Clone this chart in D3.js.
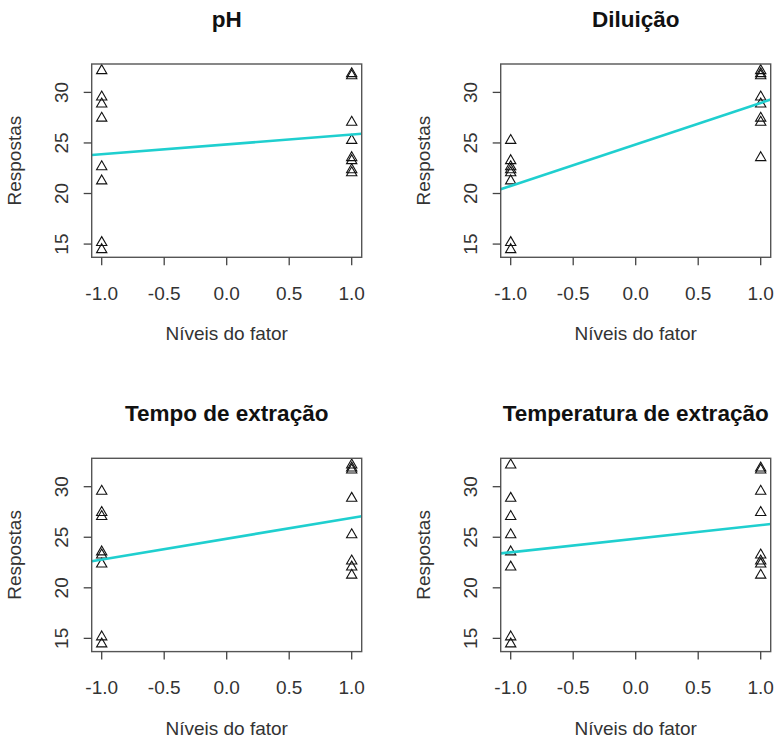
<!DOCTYPE html>
<html>
<head>
<meta charset="utf-8">
<script src="https://cdn.jsdelivr.net/npm/d3@7"></script>
<style>
  body { margin: 0; background: #fff; }
  text { font-family: "Liberation Sans", Arial, sans-serif; }
</style>
</head>
<body>
<div id="main"><svg width="774" height="739"></svg></div>
<script>
// respostas do planejamento 2^(4-1) em duplicata
var respostas   = [15.1, 14.4, 23.2, 22.3, 29.5, 27.4, 27.0, 23.5, 22.6, 21.2, 25.2, 22.0, 32.1, 28.8, 31.8, 31.6];
var ph          = [-1, -1,  1,  1, -1, -1,  1,  1, -1, -1,  1,  1, -1, -1,  1,  1];
var diluicao    = [-1, -1, -1, -1,  1,  1,  1,  1, -1, -1, -1, -1,  1,  1,  1,  1];
var tempo       = [-1, -1, -1, -1, -1, -1, -1, -1,  1,  1,  1,  1,  1,  1,  1,  1];
var temperatura = [-1, -1,  1,  1,  1,  1, -1, -1,  1,  1, -1, -1, -1, -1,  1,  1];

var titulos = ["pH", "Diluição", "Tempo de extração", "Temperatura de extração"];
var fatores = [ph, diluicao, tempo, temperatura];
var xTicks = [-1.0, -0.5, 0.0, 0.5, 1.0];
var yTicks = [15, 20, 25, 30];

var svg = d3.select("#main svg");
svg.append("rect").attr("width", 774).attr("height", 739).attr("fill", "#fff");

var COL_X = [91.7, 500.7];
var ROW_Y = [64, 458.3];
var boxW = 270, boxH = 193.3;

// R style 4% padding on each side
var ext = d3.extent(respostas);
var pad = (ext[1] - ext[0]) * 0.04;

var tri = d3.symbol().type(d3.symbolTriangle).size(46);

titulos.forEach(function(titulo, k) {
  var fator = fatores[k];
  var g = svg.append("g")
    .attr("transform", "translate(" + [COL_X[k % 2], ROW_Y[Math.floor(k / 2)]] + ")");

  var x = d3.scaleLinear().domain([-1.08, 1.08]).range([0, boxW]);
  var y = d3.scaleLinear().domain([ext[0] - pad, ext[1] + pad]).range([boxH, 0]);

  // regressao simples resposta ~ fator
  var mx = d3.mean(fator), my = d3.mean(respostas);
  var sxy = d3.sum(fator, function(f, i) { return (f - mx) * (respostas[i] - my); });
  var sxx = d3.sum(fator, function(f) { return (f - mx) * (f - mx); });
  var b = sxy / sxx, a = my - b * mx;

  var clipId = "clip" + k;
  g.append("clipPath").attr("id", clipId)
    .append("rect").attr("width", boxW).attr("height", boxH);

  g.selectAll(".pt").data(respostas)
    .enter().append("path")
    .attr("class", "pt")
    .attr("d", tri)
    .attr("transform", function(d, i) { return "translate(" + [x(fator[i]), y(d) - 0.5] + ")"; })
    .attr("fill", "none")
    .attr("stroke", "#111")
    .attr("stroke-width", 1.1);

  g.append("line")
    .attr("clip-path", "url(#" + clipId + ")")
    .attr("x1", x(-1.08)).attr("y1", y(a + b * -1.08))
    .attr("x2", x(1.08)).attr("y2", y(a + b * 1.08))
    .attr("stroke", "#1fcfcf")
    .attr("stroke-width", 2.6);

  g.append("rect")
    .attr("width", boxW).attr("height", boxH)
    .attr("fill", "none").attr("stroke", "#555").attr("stroke-width", 1.4);

  // eixo x
  var xAxis = g.append("g");
  xAxis.selectAll("line").data(xTicks).enter().append("line")
    .attr("x1", function(d) { return x(d); }).attr("x2", function(d) { return x(d); })
    .attr("y1", boxH).attr("y2", boxH + 8)
    .attr("stroke", "#444").attr("stroke-width", 1.3);
  xAxis.selectAll("text").data(xTicks).enter().append("text")
    .attr("x", function(d) { return x(d); })
    .attr("y", boxH + 42.5)
    .attr("text-anchor", "middle")
    .attr("font-size", 19).attr("fill", "#333")
    .text(function(d) { return d3.format(".1f")(d).replace("−", "-"); });

  // eixo y
  var yAxis = g.append("g");
  yAxis.selectAll("line").data(yTicks).enter().append("line")
    .attr("x1", -8).attr("x2", 0)
    .attr("y1", function(d) { return y(d); }).attr("y2", function(d) { return y(d); })
    .attr("stroke", "#444").attr("stroke-width", 1.3);
  yAxis.selectAll("text").data(yTicks).enter().append("text")
    .attr("transform", function(d) { return "translate(" + [-24, y(d)] + ") rotate(-90)"; })
    .attr("text-anchor", "middle")
    .attr("font-size", 19).attr("fill", "#333")
    .text(function(d) { return d; });

  g.append("text")
    .attr("x", boxW / 2).attr("y", boxH + 83)
    .attr("text-anchor", "middle")
    .attr("font-size", 19).attr("fill", "#333")
    .text("Níveis do fator");

  g.append("text")
    .attr("transform", "translate(" + [-71, boxH / 2] + ") rotate(-90)")
    .attr("text-anchor", "middle")
    .attr("font-size", 19).attr("fill", "#333")
    .text("Respostas");

  g.append("text")
    .attr("x", boxW / 2).attr("y", -37)
    .attr("text-anchor", "middle")
    .attr("font-size", 22.5).attr("font-weight", "bold").attr("fill", "#111")
    .text(titulo);
});
</script>
</body>
</html>
